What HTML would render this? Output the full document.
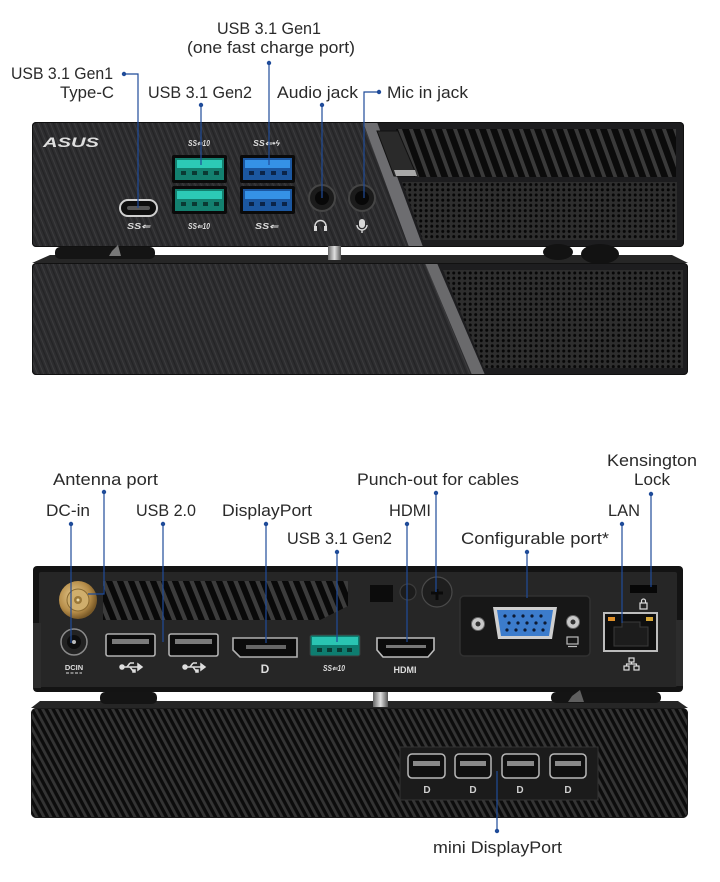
<!DOCTYPE html>
<html><head><meta charset="utf-8">
<style>
html,body{margin:0;padding:0;background:#fff;}
svg{display:block;}
text{font-family:"Liberation Sans",sans-serif;}
.lb{font-size:16.5px;fill:#2a2a2a;}
.ln{stroke:#1f4b99;stroke-width:1.2;fill:none;}
.dt{fill:#1f4b99;}
.sm{font-size:8px;fill:#dcdcdc;font-style:italic;font-weight:bold;}
.ic{stroke:#d8d8d8;stroke-width:1.4;fill:none;}
</style></head><body>
<svg width="720" height="882" viewBox="0 0 720 882" xmlns="http://www.w3.org/2000/svg">
<defs>
  <pattern id="brush" width="6" height="60" patternUnits="userSpaceOnUse" patternTransform="skewX(22)">
    <rect width="6" height="60" fill="#2d2d2f"/>
    <rect x="0" width="1" height="60" fill="#3c3c3e"/>
    <rect x="3" width="1.2" height="60" fill="#232325"/>
  </pattern>
  <pattern id="perf" width="5.5" height="5.2" patternUnits="userSpaceOnUse">
    <rect width="5.5" height="5.2" fill="#2e2e2e"/>
    <circle cx="2.75" cy="2.6" r="1.5" fill="#070707"/>
  </pattern>
  <pattern id="slat1" width="11" height="60" patternUnits="userSpaceOnUse" patternTransform="skewX(20)">
    <rect width="11" height="60" fill="#3a3a3a"/>
    <rect x="3" width="7" height="60" fill="#0b0b0b"/>
  </pattern>
  <pattern id="slat2" width="11" height="60" patternUnits="userSpaceOnUse" patternTransform="skewX(22)">
    <rect width="11" height="60" fill="#3c3c3c"/>
    <rect x="3" width="6.5" height="60" fill="#090909"/>
  </pattern>
  <pattern id="slat3" width="7" height="40" patternUnits="userSpaceOnUse" patternTransform="skewX(28)">
    <rect width="7" height="40" fill="#0c0c0c"/>
    <rect x="0" width="3.2" height="40" fill="#343434"/>
  </pattern>
  <linearGradient id="pin" x1="0" x2="1" y1="0" y2="0">
    <stop offset="0" stop-color="#666"/><stop offset="0.5" stop-color="#e0e0e0"/><stop offset="1" stop-color="#555"/>
  </linearGradient>
  <radialGradient id="gold" cx="0.4" cy="0.4" r="0.6">
    <stop offset="0" stop-color="#e8cc90"/><stop offset="0.7" stop-color="#b58c48"/><stop offset="1" stop-color="#7a5a28"/>
  </radialGradient>
  <clipPath id="c1"><rect x="32" y="122" width="652" height="125" rx="4"/></clipPath>
  <clipPath id="c2"><rect x="32" y="263" width="656" height="112" rx="4"/></clipPath>
</defs>

<!-- ===== TOP LABELS ===== -->
<text class="lb" x="217" y="34" textLength="104" lengthAdjust="spacingAndGlyphs">USB 3.1 Gen1</text>
<text class="lb" x="187" y="53" textLength="168" lengthAdjust="spacingAndGlyphs">(one fast charge port)</text>
<text class="lb" x="11" y="79" textLength="102" lengthAdjust="spacingAndGlyphs">USB 3.1 Gen1</text>
<text class="lb" x="60" y="98" textLength="54" lengthAdjust="spacingAndGlyphs">Type-C</text>
<text class="lb" x="148" y="98" textLength="104" lengthAdjust="spacingAndGlyphs">USB 3.1 Gen2</text>
<text class="lb" x="277" y="98" textLength="81" lengthAdjust="spacingAndGlyphs">Audio jack</text>
<text class="lb" x="387" y="98" textLength="81" lengthAdjust="spacingAndGlyphs">Mic in jack</text>

<!-- ===== FRONT TOP UNIT ===== -->
<g clip-path="url(#c1)">
  <rect x="32" y="122" width="652" height="125" fill="#1d1d1f"/>
  <polygon points="32,122 363,122 409,247 32,247" fill="url(#brush)"/>
  <polygon points="363,122 377,122 423,247 409,247" fill="#6d6d70"/>
  <polygon points="396,129 676,129 676,177 414,177" fill="url(#slat1)"/>
  <polygon points="402,182 677,182 677,240 423,240" fill="url(#perf)"/>
  <polygon points="377,131 398,131 417,176 394,176" fill="#2a2a2a" stroke="#111" stroke-width="1"/>
  <polygon points="394,170 415,170 417,176 396,176" fill="#a8a8a8"/>
</g>
<rect x="32.5" y="122.5" width="651" height="124" rx="4" fill="none" stroke="#111" stroke-width="1"/>

<!-- ASUS logo -->
<text x="43" y="147" font-size="14" font-weight="bold" font-style="italic" fill="#dedede" textLength="56" lengthAdjust="spacingAndGlyphs">ASUS</text>

<!-- ss labels -->
<text class="sm" x="188" y="146" textLength="22" lengthAdjust="spacingAndGlyphs">SS⇐10</text>
<text class="sm" x="253" y="146" textLength="27" lengthAdjust="spacingAndGlyphs">SS⇐•ϟ</text>
<text class="sm" x="127" y="229" textLength="23" lengthAdjust="spacingAndGlyphs">SS⇐</text>
<text class="sm" x="188" y="229" textLength="22" lengthAdjust="spacingAndGlyphs">SS⇐10</text>
<text class="sm" x="255" y="229" textLength="23" lengthAdjust="spacingAndGlyphs">SS⇐</text>

<!-- Type-C -->
<rect x="120" y="200" width="37" height="16" rx="8" fill="#0e0e0e" stroke="#cfcfcf" stroke-width="2"/>
<rect x="127" y="206" width="23" height="4" rx="2" fill="#555"/>

<!-- Green USB -->
<rect x="172" y="155" width="55" height="28" rx="2" fill="#0a0a0a"/>
<rect x="175" y="158" width="49" height="22" fill="#13806f"/>
<rect x="177" y="160" width="45" height="8" fill="#2ccab6"/>
<rect x="181" y="171" width="5" height="4" fill="#0a3a33"/><rect x="192" y="171" width="5" height="4" fill="#0a3a33"/><rect x="203" y="171" width="5" height="4" fill="#0a3a33"/><rect x="214" y="171" width="5" height="4" fill="#0a3a33"/>
<rect x="172" y="186" width="55" height="28" rx="2" fill="#0a0a0a"/>
<rect x="175" y="189" width="49" height="22" fill="#13806f"/>
<rect x="177" y="191" width="45" height="8" fill="#2ccab6"/>
<rect x="181" y="202" width="5" height="4" fill="#0a3a33"/><rect x="192" y="202" width="5" height="4" fill="#0a3a33"/><rect x="203" y="202" width="5" height="4" fill="#0a3a33"/><rect x="214" y="202" width="5" height="4" fill="#0a3a33"/>

<!-- Blue USB -->
<rect x="240" y="155" width="55" height="28" rx="2" fill="#0a0a0a"/>
<rect x="243" y="158" width="49" height="22" fill="#1b57a0"/>
<rect x="245" y="160" width="45" height="8" fill="#3592e6"/>
<rect x="249" y="171" width="5" height="4" fill="#0b2448"/><rect x="260" y="171" width="5" height="4" fill="#0b2448"/><rect x="271" y="171" width="5" height="4" fill="#0b2448"/><rect x="282" y="171" width="5" height="4" fill="#0b2448"/>
<rect x="240" y="186" width="55" height="28" rx="2" fill="#0a0a0a"/>
<rect x="243" y="189" width="49" height="22" fill="#1b57a0"/>
<rect x="245" y="191" width="45" height="8" fill="#3592e6"/>
<rect x="249" y="202" width="5" height="4" fill="#0b2448"/><rect x="260" y="202" width="5" height="4" fill="#0b2448"/><rect x="271" y="202" width="5" height="4" fill="#0b2448"/><rect x="282" y="202" width="5" height="4" fill="#0b2448"/>

<!-- Audio jacks -->
<circle cx="322" cy="198" r="13" fill="#1b1b1b" stroke="#454545" stroke-width="2"/>
<circle cx="322" cy="198" r="7" fill="#080808"/>
<circle cx="362" cy="198" r="13" fill="#1b1b1b" stroke="#454545" stroke-width="2"/>
<circle cx="362" cy="198" r="7" fill="#080808"/>
<!-- headphone icon -->
<path class="ic" d="M315,230 v-4 a5.5,5.5 0 0 1 11,0 v4"/>
<rect x="314" y="226" width="3" height="5" fill="#d8d8d8"/><rect x="324" y="226" width="3" height="5" fill="#d8d8d8"/>
<!-- mic icon -->
<rect x="359" y="219" width="6" height="9" rx="3" fill="#d8d8d8"/>
<path class="ic" d="M357,225 a5,5 0 0 0 10,0 M362,230 v3"/>

<!-- feet between front units -->
<polygon points="50,255 672,255 688,263 32,263" fill="#262626"/>
<rect x="55" y="247" width="100" height="12" rx="5" fill="#141414"/>
<polygon points="112,251 118,245 121,256 109,256" fill="#bbb" opacity="0.6"/>
<rect x="328" y="246" width="13" height="14" fill="url(#pin)"/>
<ellipse cx="558" cy="252" rx="15" ry="8" fill="#121212"/>
<ellipse cx="600" cy="254" rx="19" ry="10" fill="#121212"/>

<!-- ===== FRONT LOWER UNIT ===== -->
<g clip-path="url(#c2)">
  <rect x="32" y="263" width="656" height="112" fill="#1d1d1f"/>
  <polygon points="32,263 425,263 472,375 32,375" fill="url(#brush)"/>
  <polygon points="425,263 437,263 485,375 472,375" fill="#6a6a6c"/>
  <polygon points="443,270 683,270 683,368 484,368" fill="url(#perf)"/>
</g>
<rect x="32.5" y="263.5" width="655" height="111" rx="4" fill="none" stroke="#111" stroke-width="1"/>

<!-- top connectors -->
<path class="ln" d="M124,74 H138 V208"/><circle class="dt" cx="124" cy="74" r="2.2"/>
<path class="ln" d="M201,105 V165"/><circle class="dt" cx="201" cy="105" r="2.2"/>
<path class="ln" d="M269,63 V165"/><circle class="dt" cx="269" cy="63" r="2.2"/>
<path class="ln" d="M322,105 V198"/><circle class="dt" cx="322" cy="105" r="2.2"/>
<path class="ln" d="M379,92 H364 V198"/><circle class="dt" cx="379" cy="92" r="2.2"/>

<!-- ===== BOTTOM LABELS ===== -->
<text class="lb" x="607" y="466" textLength="90" lengthAdjust="spacingAndGlyphs">Kensington</text>
<text class="lb" x="634" y="485" textLength="36" lengthAdjust="spacingAndGlyphs">Lock</text>
<text class="lb" x="53" y="485" textLength="105" lengthAdjust="spacingAndGlyphs">Antenna port</text>
<text class="lb" x="357" y="485" textLength="162" lengthAdjust="spacingAndGlyphs">Punch-out for cables</text>
<text class="lb" x="46" y="516" textLength="44" lengthAdjust="spacingAndGlyphs">DC-in</text>
<text class="lb" x="136" y="516" textLength="60" lengthAdjust="spacingAndGlyphs">USB 2.0</text>
<text class="lb" x="222" y="516" textLength="90" lengthAdjust="spacingAndGlyphs">DisplayPort</text>
<text class="lb" x="389" y="516" textLength="42" lengthAdjust="spacingAndGlyphs">HDMI</text>
<text class="lb" x="608" y="516" textLength="32" lengthAdjust="spacingAndGlyphs">LAN</text>
<text class="lb" x="287" y="544" textLength="105" lengthAdjust="spacingAndGlyphs">USB 3.1 Gen2</text>
<text class="lb" x="461" y="544" textLength="148" lengthAdjust="spacingAndGlyphs">Configurable port*</text>

<!-- ===== REAR TOP UNIT ===== -->
<rect x="33" y="566" width="650" height="126" rx="4" fill="#131313"/>
<rect x="39" y="572" width="638" height="115" rx="2" fill="#262626"/>
<rect x="33" y="623" width="8" height="65" fill="#2c2c2c"/>
<rect x="676" y="620" width="7" height="66" fill="#2c2c2c"/>
<polygon points="103,581 348,581 348,606 320,620 103,620" fill="url(#slat2)"/>

<!-- antenna -->
<circle cx="78" cy="600" r="19" fill="url(#gold)"/>
<circle cx="78" cy="600" r="11" fill="#cfae6c" stroke="#8a6a30" stroke-width="1"/>
<circle cx="78" cy="600" r="4" fill="#9a7838"/>
<circle cx="78" cy="600" r="1.5" fill="#e8d8a8"/>
<!-- DC jack -->
<circle cx="74" cy="642" r="13" fill="#222" stroke="#8a8a8a" stroke-width="1.5"/>
<circle cx="74" cy="642" r="7" fill="#0d0d0d"/>
<circle cx="74" cy="642" r="2" fill="#bbb"/>
<text x="74" y="670" font-size="7.5" font-weight="bold" fill="#ddd" text-anchor="middle">DCIN</text>
<line x1="66" y1="673" x2="82" y2="673" stroke="#ddd" stroke-width="1" stroke-dasharray="3,1.5"/>

<!-- USB 2.0 -->
<rect x="106" y="634" width="49" height="22" rx="2" fill="#0b0b0b" stroke="#b0b0b0" stroke-width="1.6"/>
<rect x="112" y="639" width="37" height="5" fill="#7a7a7a"/>
<rect x="169" y="634" width="49" height="22" rx="2" fill="#0b0b0b" stroke="#b0b0b0" stroke-width="1.6"/>
<rect x="175" y="639" width="37" height="5" fill="#7a7a7a"/>
<g stroke="#ddd" stroke-width="1.5" fill="#ddd">
  <circle cx="122" cy="667" r="2"/><line x1="122" y1="667" x2="138" y2="667"/><polygon points="138,664 142,667 138,670"/>
  <line x1="127" y1="667" x2="130" y2="663"/><line x1="130" y1="663" x2="134" y2="663"/>
  <line x1="130" y1="667" x2="133" y2="671"/><rect x="133" y="670" width="2" height="2"/>
  <circle cx="185" cy="667" r="2"/><line x1="185" y1="667" x2="201" y2="667"/><polygon points="201,664 205,667 201,670"/>
  <line x1="190" y1="667" x2="193" y2="663"/><line x1="193" y1="663" x2="197" y2="663"/>
  <line x1="193" y1="667" x2="196" y2="671"/><rect x="196" y="670" width="2" height="2"/>
</g>

<!-- DisplayPort -->
<path d="M233,638 H297 V657 H240 L233,650 Z" fill="#0b0b0b" stroke="#b0b0b0" stroke-width="1.6"/>
<rect x="246" y="645" width="40" height="4" fill="#666"/>
<text x="265" y="673" font-size="12" font-weight="bold" fill="#ddd" text-anchor="middle">D</text>

<!-- USB 3.1 Gen2 rear -->
<rect x="310" y="635" width="50" height="21" rx="2" fill="#0e7d70" stroke="#3a3a3a" stroke-width="1"/>
<rect x="312" y="637" width="46" height="8" fill="#2ac4b2"/>
<rect x="317" y="648" width="5" height="4" fill="#0a3a33"/><rect x="327" y="648" width="5" height="4" fill="#0a3a33"/><rect x="337" y="648" width="5" height="4" fill="#0a3a33"/><rect x="347" y="648" width="5" height="4" fill="#0a3a33"/>
<text class="sm" x="323" y="671" textLength="22" lengthAdjust="spacingAndGlyphs">SS⇐10</text>

<!-- square patch, screw, punch-out -->
<rect x="370" y="585" width="23" height="17" fill="#0c0c0c"/>
<circle cx="408" cy="592" r="8" fill="#1c1c1c" stroke="#3c3c3c" stroke-width="1.2"/>
<circle cx="437" cy="592" r="15" fill="#1e1e1e" stroke="#4a4a4a" stroke-width="1.2"/>
<path d="M431,593 H443 M437,589 V600" stroke="#0a0a0a" stroke-width="3"/>

<!-- HDMI -->
<path d="M377,638 H434 V650 L428,657 H383 L377,650 Z" fill="#0b0b0b" stroke="#bdbdbd" stroke-width="1.6"/>
<rect x="386" y="645" width="40" height="3" fill="#777"/>
<text x="405" y="673" font-size="9" font-weight="bold" fill="#ddd" text-anchor="middle">HDMI</text>

<!-- VGA module -->
<rect x="460" y="596" width="130" height="60" rx="4" fill="#171717" stroke="#303030" stroke-width="1.5"/>
<polygon points="493,607 557,607 552,639 498,639" fill="#cfcfcf"/>
<polygon points="497,610 553,610 549,636 501,636" fill="#3c7ccc"/>
<g fill="#0d1a33">
  <circle cx="505" cy="616" r="1.6"/><circle cx="514" cy="616" r="1.6"/><circle cx="523" cy="616" r="1.6"/><circle cx="532" cy="616" r="1.6"/><circle cx="541" cy="616" r="1.6"/>
  <circle cx="509" cy="623" r="1.6"/><circle cx="518" cy="623" r="1.6"/><circle cx="527" cy="623" r="1.6"/><circle cx="536" cy="623" r="1.6"/><circle cx="545" cy="623" r="1.6"/>
  <circle cx="507" cy="630" r="1.6"/><circle cx="516" cy="630" r="1.6"/><circle cx="525" cy="630" r="1.6"/><circle cx="534" cy="630" r="1.6"/><circle cx="543" cy="630" r="1.6"/>
</g>
<circle cx="478" cy="624" r="6.5" fill="#c8c8c8" stroke="#666" stroke-width="1"/><circle cx="478" cy="624" r="2.5" fill="#333"/>
<circle cx="573" cy="622" r="6.5" fill="#c8c8c8" stroke="#666" stroke-width="1"/><circle cx="573" cy="622" r="2.5" fill="#333"/>
<rect x="567" y="637" width="11" height="7" fill="none" stroke="#bbb" stroke-width="1.2"/>
<line x1="568" y1="646.5" x2="577" y2="646.5" stroke="#bbb" stroke-width="1.2"/>

<!-- LAN -->
<rect x="604" y="613" width="53" height="38" fill="#0e0e0e" stroke="#bcbcbc" stroke-width="2"/>
<rect x="608" y="617" width="7" height="4" fill="#e0902a"/>
<rect x="646" y="617" width="7" height="4" fill="#d8a838"/>
<path d="M614,627 H622 V622 H640 V627 H648 V646 H614 Z" fill="#1c1c1c" stroke="#3a3a3a" stroke-width="1"/>
<g fill="none" stroke="#ddd" stroke-width="1.2">
  <rect x="629" y="658" width="5" height="4"/><rect x="624" y="666" width="5" height="4"/><rect x="634" y="666" width="5" height="4"/>
  <path d="M631.5,662 V664 H626.5 V666 M631.5,664 H636.5 V666"/>
</g>

<!-- Kensington -->
<rect x="630" y="585" width="27" height="8" fill="#070707"/>
<rect x="640" y="603" width="7" height="6" fill="none" stroke="#ddd" stroke-width="1.2"/>
<path d="M641.5,603 v-2 a2,2 0 0 1 4,0 v2" fill="none" stroke="#ddd" stroke-width="1.2"/>

<!-- feet between rear units -->
<polygon points="40,701 678,701 688,708 31,708" fill="#262626"/>
<rect x="100" y="692" width="57" height="12" rx="5" fill="#141414"/>
<rect x="373" y="692" width="15" height="15" fill="url(#pin)"/>
<rect x="551" y="692" width="110" height="11" rx="5" fill="#141414"/>
<polygon points="572,696 580,690 584,702 568,702" fill="#aaa" opacity="0.5"/>

<!-- ===== REAR LOWER UNIT ===== -->
<rect x="31" y="708" width="657" height="110" rx="5" fill="url(#slat3)"/>
<rect x="31.5" y="708.5" width="656" height="109" rx="5" fill="none" stroke="#1a1a1a" stroke-width="1"/>
<rect x="400" y="747" width="198" height="53" fill="#1b1b1b" stroke="#333" stroke-width="1"/>
<g fill="#101010" stroke="#b8b8b8" stroke-width="1.5">
  <rect x="408" y="754" width="37" height="24" rx="4"/>
  <rect x="455" y="754" width="36" height="24" rx="4"/>
  <rect x="502" y="754" width="37" height="24" rx="4"/>
  <rect x="550" y="754" width="36" height="24" rx="4"/>
</g>
<g fill="#8a8a8a">
  <rect x="413" y="761" width="27" height="5"/>
  <rect x="460" y="761" width="26" height="5"/>
  <rect x="507" y="761" width="27" height="5"/>
  <rect x="555" y="761" width="26" height="5"/>
</g>
<g font-size="10" font-weight="bold" fill="#cfcfcf" text-anchor="middle">
  <text x="427" y="793">D</text><text x="473" y="793">D</text><text x="520" y="793">D</text><text x="568" y="793">D</text>
</g>

<text class="lb" x="433" y="853" textLength="129" lengthAdjust="spacingAndGlyphs">mini DisplayPort</text>

<!-- bottom connectors -->
<path class="ln" d="M104,492 V594 H88"/><circle class="dt" cx="104" cy="492" r="2.2"/>
<path class="ln" d="M71,524 V643"/><circle class="dt" cx="71" cy="524" r="2.2"/>
<path class="ln" d="M163,524 V642"/><circle class="dt" cx="163" cy="524" r="2.2"/>
<path class="ln" d="M266,524 V643"/><circle class="dt" cx="266" cy="524" r="2.2"/>
<path class="ln" d="M337,552 V642"/><circle class="dt" cx="337" cy="552" r="2.2"/>
<path class="ln" d="M407,524 V642"/><circle class="dt" cx="407" cy="524" r="2.2"/>
<path class="ln" d="M436,493 V592"/><circle class="dt" cx="436" cy="493" r="2.2"/>
<path class="ln" d="M527,552 V598"/><circle class="dt" cx="527" cy="552" r="2.2"/>
<path class="ln" d="M622,524 V623"/><circle class="dt" cx="622" cy="524" r="2.2"/>
<path class="ln" d="M651,494 V587"/><circle class="dt" cx="651" cy="494" r="2.2"/>
<path class="ln" d="M497,831 V771"/><circle class="dt" cx="497" cy="831" r="2.2"/>
</svg>
</body></html>
